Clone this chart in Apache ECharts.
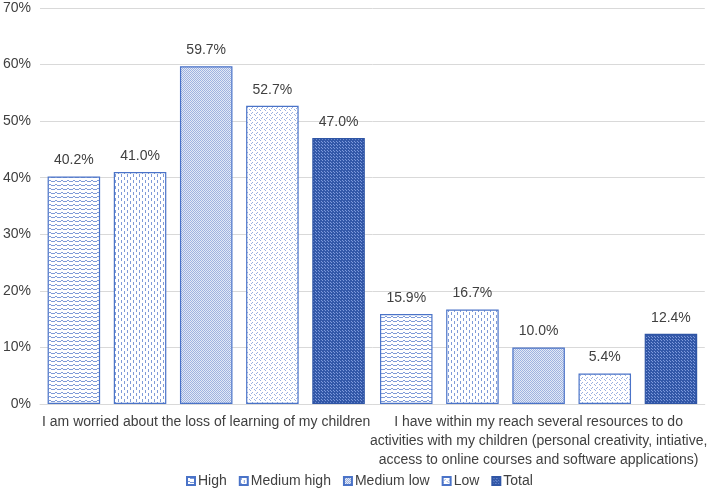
<!DOCTYPE html>
<html><head><meta charset="utf-8">
<script src="https://cdn.jsdelivr.net/npm/echarts@6/dist/echarts.min.js"></script>
<style>html,body{margin:0;padding:0;background:#fff}#c{width:709px;height:491px}</style>
</head><body><div id="c"></div>
<script>
var categories = [
  "I am worried about the loss of learning of my children",
  "I have within my reach several resources to do\nactivities with my children (personal creativity, intiative,\naccess to online courses and software applications)"
];
var seriesNames = ["High", "Medium high", "Medium low", "Low", "Total"];
var high = [40.2, 15.9];
var mediumHigh = [41.0, 16.7];
var mediumLow = [59.7, 10.0];
var low = [52.7, 5.4];
var total = [47.0, 12.4];
var yTicks = [0, 10, 20, 30, 40, 50, 60, 70];

function tile(w, h, bg, fg, pts) {
  var c = document.createElement('canvas');
  c.width = w; c.height = h;
  var g = c.getContext('2d');
  g.fillStyle = bg; g.fillRect(0, 0, w, h);
  g.fillStyle = fg;
  pts.forEach(function (p) { g.fillRect(p[0], p[1], p[2] || 1, p[3] || 1); });
  return { image: c, repeat: 'repeat' };
}
var patHigh = tile(6, 4, '#ffffff', '#7f9bd8', [[0,1],[1,0],[2,0],[3,1],[4,1],[5,1]]);
var patMedHigh = tile(6, 6, '#ffffff', '#7f9bd8', [[1,0,1,3],[4,3,1,3]]);
var patMedLow = tile(2, 2, '#e3e9f6', '#9fb3e0', [[0,0],[1,1]]);
var patLow = tile(5, 5, '#ffffff', '#9ab0e0', [[0,0],[2,2],[4,4],[1,3]]);
var patTotal = tile(3, 3, '#3358a8', '#7d99dc', [[0,0],[1,1]]);

var pats = [patHigh, patMedHigh, patMedLow, patLow, patTotal];
var data = [high, mediumHigh, mediumLow, low, total];
var borders = ['#4a73c8', '#4a73c8', '#4a73c8', '#4a73c8', '#2f55a5'];
var font = 'Liberation Sans, Arial, sans-serif';

var series = seriesNames.map(function (n, i) {
  return {
    name: n, type: 'bar', data: data[i],
    barWidth: '15.8%', barGap: '26%',
    itemStyle: { color: pats[i], borderColor: borders[i], borderWidth: 1.2 },
    label: { show: true, position: 'top', distance: 9, formatter: function (p) { return p.value.toFixed(1) + '%'; },
      color: '#404040', fontSize: 14, fontFamily: font }
  };
});

var chart = echarts.init(document.getElementById('c'), null, { renderer: 'canvas' });
chart.setOption({
  animation: false,
  grid: { left: 39, right: 0, top: 8, bottom: 87, containLabel: false },
  legend: {
    bottom: 3, left: 186, padding: 0, itemWidth: 8, itemHeight: 8, itemGap: 12, icon: 'rect',
    textStyle: { color: '#404040', fontSize: 14, fontFamily: font, padding: [0, 0, 0, -2] },
    data: seriesNames
  },
  xAxis: {
    type: 'category', data: categories,
    axisLine: { lineStyle: { color: '#d9d9d9' } },
    axisTick: { show: false },
    axisLabel: { color: '#404040', fontSize: 14, lineHeight: 19, margin: 9, interval: 0, fontFamily: font }
  },
  yAxis: {
    type: 'value', min: yTicks[0], max: yTicks[yTicks.length - 1], interval: 10,
    axisLine: { show: false }, axisTick: { show: false },
    splitLine: { lineStyle: { color: '#d9d9d9' } },
    axisLabel: { formatter: '{value}%', color: '#404040', fontSize: 14, margin: 9, fontFamily: font }
  },
  series: series
});
</script></body></html>
